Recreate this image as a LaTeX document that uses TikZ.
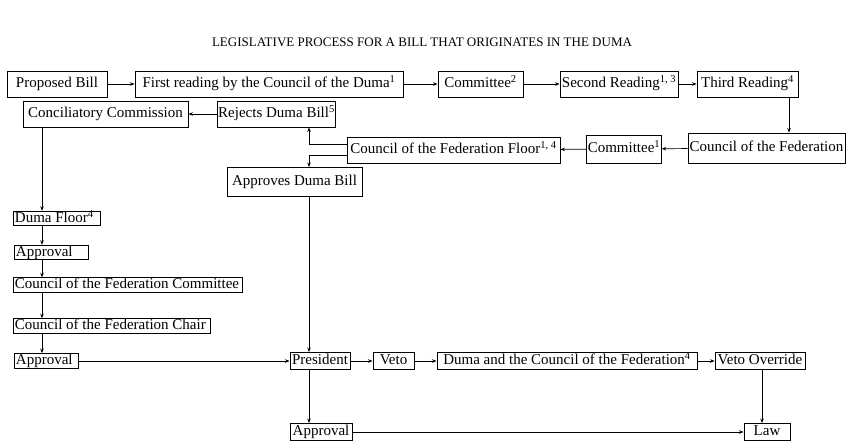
\documentclass[tikz,border=0pt]{standalone}
\usepackage{fontspec}
\setmainfont{Liberation Serif}
\usetikzlibrary{arrows.meta}
\begin{document}
\begin{tikzpicture}[x=1pt,y=-1pt,
  box/.style={draw, line width=0.9pt, inner xsep=1pt, inner ysep=0.5pt,
    text height=10.5pt, text depth=3pt, font=\fontsize{15}{16}\selectfont},
  lbox/.style={box, anchor=west, inner xsep=1.5pt},
  arr/.style={-{Stealth[length=4.5pt,width=3.5pt]}, line width=0.7pt},
  ttl/.style={font=\fontsize{13}{15}\selectfont}]
\useasboundingbox (0,0) rectangle (849,445);

% title
\node[ttl] (title) at (422,42) {LEGISLATIVE PROCESS FOR A BILL THAT ORIGINATES IN THE DUMA};

% Duma readings
\node[box, minimum width=100, minimum height=26] (pb)  at (57,84)    {Proposed Bill};
\node[box, minimum width=268, minimum height=26] (fr)  at (269,84)   {First reading by the Council of the Duma\textsuperscript{1}};
\node[box, minimum width=85,  minimum height=26] (c2)  at (480.5,84) {Committee\textsuperscript{2}};
\node[box, minimum width=118, minimum height=26] (sr)  at (619,84)   {Second Reading\textsuperscript{1, 3}};
\node[box, minimum width=101, minimum height=26] (tr)  at (747.5,84) {Third Reading\textsuperscript{4}};

% Council of the Federation
\node[box, minimum width=157, minimum height=30] (cf)  at (766.5,148) {Council of the Federation};
\node[box, minimum width=74,  minimum height=28] (c1)  at (624,149)   {Committee\textsuperscript{1}};
\node[box, minimum width=213, minimum height=26] (cff) at (453.5,150) {Council of the Federation Floor\textsuperscript{1, 4}};
\node[box, minimum width=117, minimum height=26] (rdb) at (276.5,114) {Rejects Duma Bill\textsuperscript{5}};
\node[box, minimum width=165, minimum height=26] (cc)  at (105.5,114) {Conciliatory Commission};
\node[box, minimum width=135, minimum height=29] (adb) at (294.5,182) {Approves Duma Bill};

% conciliation branch (text set flush left in tight boxes)
\node[lbox, minimum height=14] (df)   at (13,218.5) {\makebox[84pt][l]{Duma Floor\textsuperscript{4}}};
\node[lbox, minimum height=14] (ap1)  at (14,252.5) {\makebox[71pt][l]{Approval}};
\node[lbox, minimum height=14] (cfc)  at (13,285)   {\makebox[226pt][l]{Council of the Federation Committee}};
\node[lbox, minimum height=14] (cfch) at (13,326)   {\makebox[194pt][l]{Council of the Federation Chair}};
\node[lbox, minimum height=15] (ap2)  at (14,361)   {\makebox[61pt][l]{Approval}};

% presidential stage
\node[box, minimum width=60,  minimum height=17] (pr)  at (320,361)   {President};
\node[box, minimum width=41,  minimum height=17] (vt)  at (393.5,361) {Veto};
\node[box, minimum width=260, minimum height=17] (dc)  at (567,361)   {Duma and the Council of the Federation\textsuperscript{4}};
\node[box, minimum width=90,  minimum height=17] (vo)  at (760,361)   {Veto Override};
\node[box, minimum width=62,  minimum height=17] (ap3) at (321,432)   {Approval};
\node[box, minimum width=46,  minimum height=17] (law) at (767,432)   {Law};

% vertical guide lines for connectors
\coordinate (tx) at (789,0);
\coordinate (jx) at (309,0);
\coordinate (lx) at (42,0);
\coordinate (vx) at (762,0);

% connectors
\draw[arr] (pb) -- (fr);
\draw[arr] (fr) -- (c2);
\draw[arr] (c2) -- (sr);
\draw[arr] (sr) -- (tr);
\draw[arr] (tr.south -| tx) -- (cf.north -| tx);
\draw[arr] (cf) -- (c1);
\draw[arr] (c1) -- (cff);
\draw[arr] ([yshift=6pt]cff.west) -| (rdb.south -| jx);
\draw[arr] ([yshift=-5pt]cff.west) -| (adb.north -| jx);
\draw[arr] (rdb) -- (cc);
\draw[arr] (adb.south -| jx) -- (pr.north -| jx);
\draw[arr] (cc.south -| lx) -- (df.north -| lx);
\draw[arr] (df.south -| lx) -- (ap1.north -| lx);
\draw[arr] (ap1.south -| lx) -- (cfc.north -| lx);
\draw[arr] (cfc.south -| lx) -- (cfch.north -| lx);
\draw[arr] (cfch.south -| lx) -- (ap2.north -| lx);
\draw[arr] (ap2) -- (pr);
\draw[arr] (pr) -- (vt);
\draw[arr] (vt) -- (dc);
\draw[arr] (dc) -- (vo);
\draw[arr] (vo.south -| vx) -- (law.north -| vx);
\draw[arr] (pr.south -| jx) -- (ap3.north -| jx);
\draw[arr] (ap3) -- (law);
\end{tikzpicture}
\end{document}
